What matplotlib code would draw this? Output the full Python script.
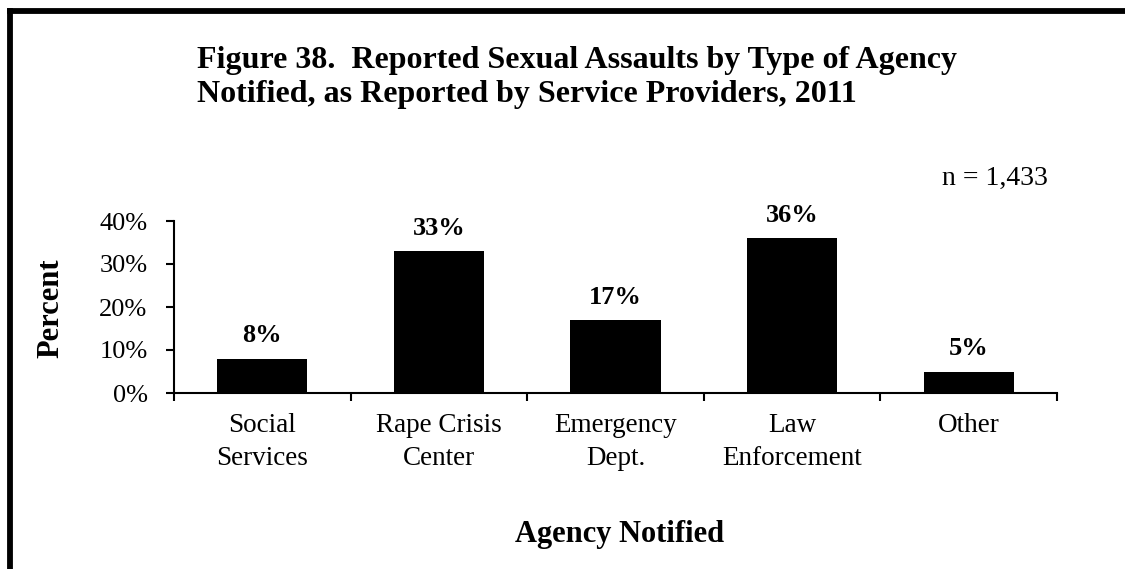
import matplotlib
matplotlib.use("Agg")
import matplotlib.pyplot as plt
from matplotlib.lines import Line2D
from matplotlib.ticker import FixedLocator, PercentFormatter

# data
agencies = ["Social\nServices", "Rape Crisis\nCenter", "Emergency\nDept.",
            "Law\nEnforcement", "Other"]
percents = [8, 33, 17, 36, 5]
y_ticks = [0, 10, 20, 30, 40]

plt.rcParams['font.family'] = ['Liberation Serif', 'DejaVu Serif']

fig = plt.figure(figsize=(11.25, 5.69), dpi=100)
ax = fig.add_axes([174 / 1125, 1 - 393 / 569, (1057 - 174) / 1125, (393 - 221) / 569])

x = range(len(agencies))
ax.bar(x, percents, width=0.51, color='black')
for xi, v in zip(x, percents):
    ax.annotate(f"{v}%", (xi, v), xytext=(0, 8), textcoords='offset points',
                ha='center', va='bottom', fontsize=19, fontweight='bold')

ax.set_xlim(-0.5, len(agencies) - 0.5)
ax.set_ylim(0, 40)
ax.set_yticks(y_ticks)
ax.yaxis.set_major_formatter(PercentFormatter(decimals=0))
ax.set_xticks(list(x))
ax.set_xticklabels(agencies, fontsize=19.5, linespacing=1.4)
ax.xaxis.set_minor_locator(FixedLocator([i - 0.5 for i in range(len(agencies) + 1)]))

ax.tick_params(axis='x', which='major', length=0, pad=14.5)
ax.tick_params(axis='x', which='minor', length=6, width=1.5, direction='out')
ax.tick_params(axis='y', length=6, width=1.5, direction='out', pad=13, labelsize=19)

for side in ['top', 'right']:
    ax.spines[side].set_visible(False)
for side in ['left', 'bottom']:
    ax.spines[side].set_linewidth(1.5)

fig.text(51 / 1125, 1 - 308 / 569, "Percent", rotation=90, ha='center', va='center',
         fontsize=22, fontweight='bold')
fig.text(620 / 1125, 1 - 542 / 569, "Agency Notified", ha='center', va='baseline',
         fontsize=22, fontweight='bold')
fig.text(197 / 1125, 1 - 102 / 569,
         "Figure 38.  Reported Sexual Assaults by Type of Agency\n"
         "Notified, as Reported by Service Providers, 2011",
         ha='left', va='baseline', fontsize=23, fontweight='bold', linespacing=1.22)
fig.text(1048 / 1125, 1 - 185 / 569, "n = 1,433", ha='right', va='baseline', fontsize=20)

# frame on left and top edges
fig.add_artist(Line2D([10 / 1125, 10 / 1125], [0, 1 - 11 / 569], transform=fig.transFigure,
                      color='black', linewidth=4.2, solid_capstyle='projecting'))
fig.add_artist(Line2D([10 / 1125, 1], [1 - 11 / 569, 1 - 11 / 569], transform=fig.transFigure,
                      color='black', linewidth=4.2, solid_capstyle='projecting'))

fig.savefig("out.png", dpi=100)
